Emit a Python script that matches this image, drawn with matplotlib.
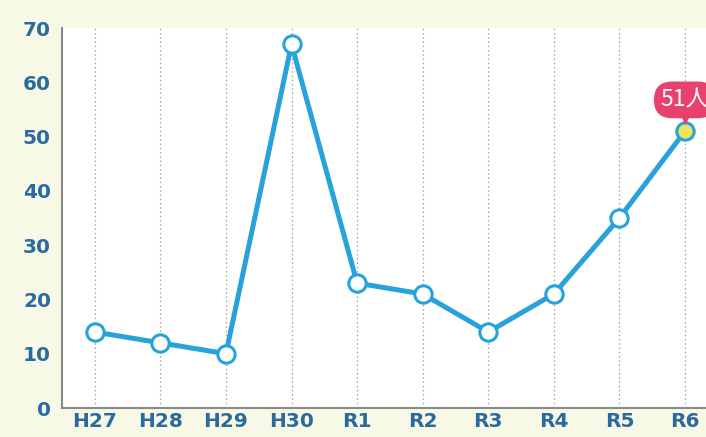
import numpy as np
import matplotlib
import matplotlib.pyplot as plt
from matplotlib.transforms import offset_copy

matplotlib.rcParams.update({"font.family": ["DejaVu Sans"]})

years = ["H27", "H28", "H29", "H30", "R1", "R2", "R3", "R4", "R5", "R6"]
counts = [14, 12, 10, 67, 23, 21, 14, 21, 35, 51]
y_ticks = [0, 10, 20, 30, 40, 50, 60, 70]
last_label = "51人"

line_color = "#27a2da"
label_color = "#2a6b9f"
bg_color = "#f8f8e6"

fig = plt.figure(figsize=(7.06, 4.37), dpi=100, facecolor=bg_color)
ax = fig.add_axes([62 / 706, 29 / 437, 1 - 62 / 706, (408 - 28) / 437])
ax.set_facecolor("white")

x = np.arange(len(years))
ax.plot(x, counts, color=line_color, lw=3.6, zorder=3, solid_joinstyle="miter")
ax.plot(x[:-1], counts[:-1], ls="none", marker="o", ms=12.5, mfc="white",
        mec=line_color, mew=2.2, zorder=4)
ax.plot(x[-1:], counts[-1:], ls="none", marker="o", ms=12.5, mfc="#eee35a",
        mec=line_color, mew=2.2, zorder=4)

# callout above the last point
ax.annotate(last_label, xy=(x[-1], counts[-1]), xytext=(0, 22.5),
            textcoords="offset points", ha="center", va="center",
            fontsize=16.5, color="white",
            family=["Noto Sans CJK JP", "DejaVu Sans"],
            bbox=dict(boxstyle="round,pad=0.3,rounding_size=0.8", fc="#e9416f", ec="none"),
            annotation_clip=False, zorder=6)
tri = offset_copy(ax.transData, fig=fig, x=0, y=9.5, units="points")
ax.plot(x[-1:], counts[-1:], ls="none", marker="v", ms=7, color="#e9416f",
        transform=tri, zorder=5, clip_on=False)

ax.set_xlim(-0.5, 9.32)
ax.set_ylim(0, 70)
ax.set_xticks(x)
ax.set_xticklabels(years)
ax.set_yticks(y_ticks)
ax.tick_params(length=0, labelsize=14.5, labelcolor=label_color)
ax.tick_params(axis="y", pad=8)
ax.tick_params(axis="x", pad=3)
for lbl in ax.get_xticklabels() + ax.get_yticklabels():
    lbl.set_fontweight("bold")

ax.grid(axis="x", ls=(0, (1.2, 2.2)), color="#a0a0a0", lw=0.9)
ax.set_axisbelow(True)
for side in ["top", "right"]:
    ax.spines[side].set_visible(False)
for side in ["left", "bottom"]:
    ax.spines[side].set_color("#8a8a8a")
    ax.spines[side].set_linewidth(1.5)

fig.savefig("out.png", dpi=100, facecolor=bg_color)
